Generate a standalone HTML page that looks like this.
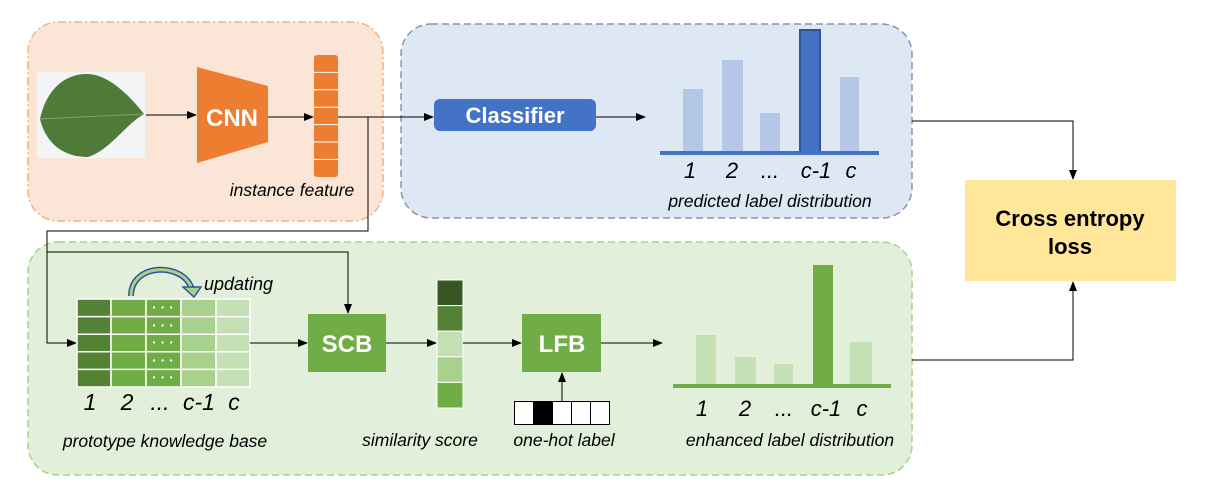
<!DOCTYPE html>
<html><head><meta charset="utf-8"><style>body{margin:0;background:#fff}svg{display:block}text{font-family:"Liberation Sans",sans-serif}</style></head><body>
<svg width="1216" height="504" viewBox="0 0 1216 504" xmlns="http://www.w3.org/2000/svg">
<defs><marker id="a" markerWidth="10" markerHeight="10" refX="9" refY="5" orient="auto" markerUnits="userSpaceOnUse"><path d="M0,1 L10,5 L0,9 Z" fill="#000"/></marker></defs>
<rect x="28" y="22" width="355" height="199" rx="30" fill="#fbe5d6" stroke="#f4b183" stroke-width="1.5" stroke-dasharray="8,3,2,3"/>
<rect x="401" y="24" width="511" height="194" rx="30" fill="#dee8f4" stroke="#8497b0" stroke-width="1.5" stroke-dasharray="7,4"/>
<rect x="28" y="242" width="884" height="233" rx="30" fill="#e2efda" stroke="#a9d18e" stroke-width="1.5" stroke-dasharray="7,4"/>
<rect x="965" y="180" width="211" height="101" fill="#ffe699"/>
<text x="1070" y="226" font-size="22" font-weight="bold" text-anchor="middle">Cross entropy</text>
<text x="1070" y="254" font-size="22" font-weight="bold" text-anchor="middle">loss</text>
<!-- leaf -->
<rect x="37" y="72" width="108" height="86" fill="#f2f4f6"/>
<path d="M40,119 C45,95 60,75 85,74 C105,73 125,90 144,114 C125,125 110,150 88,157 C60,157 45,140 40,119 Z" fill="#4f7a38"/>
<path d="M40,119 L144,114" stroke="#7da862" stroke-width="1"/>
<!-- CNN -->
<polygon points="197,67 268,86 268,142 197,163" fill="#ed7d31"/>
<text x="232" y="126" font-size="24" font-weight="bold" fill="#fff" text-anchor="middle">CNN</text>
<line x1="146" y1="115" x2="196" y2="115" stroke="#000" marker-end="url(#a)"/>
<line x1="268" y1="117" x2="313" y2="117" stroke="#000" marker-end="url(#a)"/>
<rect x="314" y="55" width="24" height="122" rx="3" fill="#ed7d31"/>
<g stroke="#fff" stroke-width="1"><line x1="314" y1="72.4" x2="338" y2="72.4"/><line x1="314" y1="89.8" x2="338" y2="89.8"/><line x1="314" y1="107.2" x2="338" y2="107.2"/><line x1="314" y1="124.6" x2="338" y2="124.6"/><line x1="314" y1="142" x2="338" y2="142"/><line x1="314" y1="159.4" x2="338" y2="159.4"/></g>
<text x="292" y="196" font-size="17.5" font-style="italic" text-anchor="middle">instance feature</text>
<!-- connectors -->
<line x1="338" y1="117" x2="433" y2="117" stroke="#000" marker-end="url(#a)"/>
<polyline points="368,117 368,231 47,231 47,343 76,343" fill="none" stroke="#000" marker-end="url(#a)"/>
<polyline points="47,252 348,252 348,313" fill="none" stroke="#000" marker-end="url(#a)"/>
<rect x="434" y="99" width="162" height="32" rx="6" fill="#4472c4"/>
<text x="515" y="123" font-size="22" font-weight="bold" fill="#fff" text-anchor="middle">Classifier</text>
<line x1="596" y1="117" x2="645" y2="117" stroke="#000" marker-end="url(#a)"/>
<!-- predicted -->
<g fill="#b4c7e7"><rect x="683" y="89" width="20" height="63"/><rect x="722" y="60" width="21" height="92"/><rect x="760" y="113" width="20" height="39"/><rect x="840" y="77" width="19" height="75"/></g>
<rect x="800" y="30" width="20" height="122" fill="#4472c4" stroke="#2f5597" stroke-width="2"/>
<rect x="660" y="151" width="219" height="4" fill="#4472c4"/>
<g font-size="22" font-style="italic" text-anchor="middle"><text x="690" y="178">1</text><text x="732" y="178">2</text><text x="770" y="178">...</text><text x="816" y="178">c-1</text><text x="851" y="178">c</text></g>
<text x="770" y="207" font-size="17.5" font-style="italic" text-anchor="middle">predicted label distribution</text>
<polyline points="912,121 1073,121 1073,179" fill="none" stroke="#000" marker-end="url(#a)"/>
<polyline points="912,360 1073,360 1073,282" fill="none" stroke="#000" marker-end="url(#a)"/>
<!-- table -->
<g stroke="#fff" stroke-width="1.5">
<rect x="77" y="299" width="34" height="88" fill="#548235"/>
<rect x="111" y="299" width="35" height="88" fill="#70ad47"/>
<rect x="146" y="299" width="35" height="88" fill="#70ad47"/>
<rect x="181" y="299" width="35" height="88" fill="#a9d18e"/>
<rect x="216" y="299" width="34" height="88" fill="#c5e0b4"/>
<line x1="77" y1="316.6" x2="250" y2="316.6"/><line x1="77" y1="334.2" x2="250" y2="334.2"/><line x1="77" y1="351.8" x2="250" y2="351.8"/><line x1="77" y1="369.4" x2="250" y2="369.4"/>
</g>
<g fill="#fff" font-size="14" font-weight="bold" text-anchor="middle"><text x="163" y="312">· · ·</text><text x="163" y="330">· · ·</text><text x="163" y="347">· · ·</text><text x="163" y="365">· · ·</text><text x="163" y="382">· · ·</text></g>
<path d="M131,296 C131,262 185,262 192,290" fill="none" stroke="#2f5597" stroke-width="6"/>
<path d="M131,296 C131,262 185,262 192,290" fill="none" stroke="#a9d18e" stroke-width="3"/>
<polygon points="183,287 201,287 194,297" fill="#a9d18e" stroke="#2f5597" stroke-width="1.5"/>
<text x="204" y="290" font-size="18" font-style="italic">updating</text>
<g font-size="23" font-style="italic" text-anchor="middle"><text x="90" y="410">1</text><text x="127" y="410">2</text><text x="160" y="410">...</text><text x="199" y="410">c-1</text><text x="234" y="410">c</text></g>
<text x="165" y="447" font-size="17.5" font-style="italic" text-anchor="middle">prototype knowledge base</text>
<line x1="250" y1="343" x2="307" y2="343" stroke="#000" marker-end="url(#a)"/>
<rect x="308" y="314" width="78" height="58" fill="#70ad47"/>
<text x="347" y="352" font-size="24" font-weight="bold" fill="#fff" text-anchor="middle">SCB</text>
<line x1="386" y1="343" x2="436" y2="343" stroke="#000" marker-end="url(#a)"/>
<g stroke="#fff" stroke-width="1"><rect x="437" y="280" width="26" height="25.6" fill="#375623"/><rect x="437" y="305.6" width="26" height="25.6" fill="#548235"/><rect x="437" y="331.2" width="26" height="25.6" fill="#c5e0b4"/><rect x="437" y="356.8" width="26" height="25.6" fill="#a9d18e"/><rect x="437" y="382.4" width="26" height="25.6" fill="#70ad47"/></g>
<text x="420" y="446" font-size="17.5" font-style="italic" text-anchor="middle">similarity score</text>
<line x1="463" y1="343" x2="521" y2="343" stroke="#000" marker-end="url(#a)"/>
<rect x="522" y="314" width="79" height="58" fill="#70ad47"/>
<text x="562" y="352" font-size="24" font-weight="bold" fill="#fff" text-anchor="middle">LFB</text>
<line x1="601" y1="343" x2="662" y2="343" stroke="#000" marker-end="url(#a)"/>
<line x1="562" y1="401" x2="562" y2="373" stroke="#000" marker-end="url(#a)"/>
<g stroke="#000" stroke-width="1"><rect x="514.5" y="401.5" width="19" height="23" fill="#fff"/><rect x="533.5" y="401.5" width="19" height="23" fill="#000"/><rect x="552.5" y="401.5" width="19" height="23" fill="#fff"/><rect x="571.5" y="401.5" width="19" height="23" fill="#fff"/><rect x="590.5" y="401.5" width="19" height="23" fill="#fff"/></g>
<text x="564" y="446" font-size="17.5" font-style="italic" text-anchor="middle">one-hot label</text>
<!-- enhanced -->
<g fill="#c5e0b4"><rect x="696" y="335" width="20" height="50"/><rect x="735" y="357" width="21" height="28"/><rect x="774" y="364" width="19" height="21"/><rect x="850" y="342" width="22" height="43"/></g>
<rect x="813" y="265" width="20" height="120" fill="#70ad47"/>
<rect x="673" y="384" width="218" height="4" fill="#70ad47"/>
<g font-size="22" font-style="italic" text-anchor="middle"><text x="702" y="416">1</text><text x="745" y="416">2</text><text x="784" y="416">...</text><text x="826" y="416">c-1</text><text x="862" y="416">c</text></g>
<text x="790" y="446" font-size="17.5" font-style="italic" text-anchor="middle">enhanced label distribution</text>
</svg>
</body></html>
